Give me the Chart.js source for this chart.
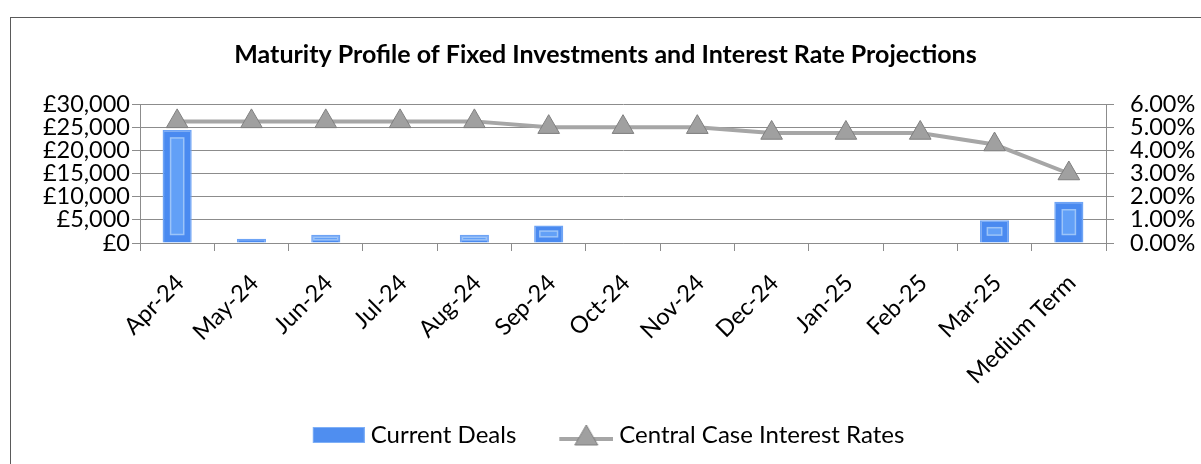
<!DOCTYPE html>
<html>
<head>
<meta charset="utf-8">
<script src="https://cdn.jsdelivr.net/npm/chart.js@4.4.1/dist/chart.umd.min.js"></script>
<style>
  html, body { margin: 0; padding: 0; background: #fff; }
  #wrap { position: relative; width: 1201px; height: 464px; overflow: hidden; }
  #frame { position: absolute; left: 10px; top: 17px; width: 1400px; height: 600px;
           border: 1.5px solid #5a5a5a; pointer-events: none; }
  canvas { position: absolute; left: 0; top: 0; }
</style>
</head>
<body>
<div id="wrap">
  <div id="frame"></div>
  <canvas id="myChart" width="1201" height="464"></canvas>
</div>
<script>
// Chart data
var months = ['Apr-24', 'May-24', 'Jun-24', 'Jul-24', 'Aug-24', 'Sep-24', 'Oct-24',
              'Nov-24', 'Dec-24', 'Jan-25', 'Feb-25', 'Mar-25', 'Medium Term'];
var currentDeals = [24400, 900, 1800, 0, 1800, 3800, 0, 0, 0, 0, 0, 4900, 8900];
var interestRates = [5.25, 5.25, 5.25, 5.25, 5.25, 5.00, 5.00, 5.00, 4.75, 4.75, 4.75, 4.25, 3.00];
var dealTicks = [0, 5000, 10000, 15000, 20000, 25000, 30000];
var rateTicks = [0, 1, 2, 3, 4, 5, 6];

var fontName = 'Lato, "Open Sans", sans-serif';
var gridColor = '#8c8c8c';

// legend swatches
function barSwatch() {
  var c = document.createElement('canvas');
  c.width = 64; c.height = 18;
  var g = c.getContext('2d');
  g.fillStyle = '#4f8ef0';
  g.fillRect(12, 1, 52, 16);
  g.strokeStyle = '#7fb0f7';
  g.strokeRect(12.5, 1.5, 51, 15);
  return c;
}
function lineSwatch() {
  var c = document.createElement('canvas');
  c.width = 64; c.height = 28;
  var g = c.getContext('2d');
  g.strokeStyle = '#a6a6a6';
  g.lineWidth = 4;
  g.beginPath(); g.moveTo(10, 18); g.lineTo(64, 18); g.stroke();
  g.fillStyle = '#a0a0a0';
  g.strokeStyle = '#7f7f7f';
  g.lineWidth = 1;
  g.beginPath(); g.moveTo(37, 4); g.lineTo(48.5, 24); g.lineTo(25.5, 24); g.closePath();
  g.fill(); g.stroke();
  return c;
}

// inner bevel on the bars
var bevelPlugin = {
  id: 'bevel',
  afterDatasetsDraw: function(chart) {
    var meta = chart.getDatasetMeta(0);
    var ctx = chart.ctx;
    ctx.save();
    meta.data.forEach(function(bar) {
      var h = bar.base - bar.y;
      if (h < 6) return;
      var w = bar.width;
      var left = bar.x - w / 2;
      var inset = Math.min(8, h / 3);
      ctx.fillStyle = '#62a0f7';
      ctx.fillRect(left + inset, bar.y + inset, w - inset * 2, h - inset * 2);
      ctx.strokeStyle = '#9cc4f8';
      ctx.lineWidth = 1.5;
      ctx.strokeRect(left + inset, bar.y + inset, w - inset * 2, h - inset * 2);
    });
    ctx.restore();
  }
};

var ctx = document.getElementById('myChart').getContext('2d');
var myChart = new Chart(ctx, {
  type: 'bar',
  data: {
    labels: months,
    datasets: [{
      type: 'bar',
      label: 'Current Deals',
      data: currentDeals,
      yAxisID: 'y',
      backgroundColor: '#4a8af0',
      borderColor: '#6ea4f5',
      borderWidth: 1.5,
      barPercentage: 0.8,
      categoryPercentage: 0.49,
      order: 2
    }, {
      type: 'line',
      label: 'Central Case Interest Rates',
      data: interestRates,
      yAxisID: 'y1',
      borderColor: '#a6a6a6',
      borderWidth: 4,
      pointStyle: 'triangle',
      pointRadius: 12.5,
      pointBackgroundColor: '#a0a0a0',
      pointBorderColor: '#7f7f7f',
      pointBorderWidth: 1,
      tension: 0,
      order: 1
    }]
  },
  options: {
    responsive: false,
    animation: false,
    layout: { padding: { left: 10, right: 0, top: 0, bottom: 7 } },
    plugins: {
      title: {
        display: true,
        text: 'Maturity Profile of Fixed Investments and Interest Rate Projections',
        color: '#000',
        font: { family: fontName, size: 25, weight: 'bold' },
        padding: { top: 40, bottom: 34 }
      },
      legend: {
        position: 'bottom',
        labels: {
          color: '#000',
          font: { family: fontName, size: 24 },
          usePointStyle: true,
          pointStyleWidth: 52,
          padding: 39,
          generateLabels: function(chart) {
            return [
              { text: 'Current Deals', pointStyle: barSwatch(), datasetIndex: 0, lineWidth: 0 },
              { text: 'Central Case Interest Rates', pointStyle: lineSwatch(), datasetIndex: 1, lineWidth: 0 }
            ];
          }
        }
      },
      tooltip: { enabled: false }
    },
    scales: {
      x: {
        offset: true,
        grid: { display: true, drawOnChartArea: false, drawTicks: true, tickLength: 8, color: gridColor, offset: true },
        border: { display: true, color: gridColor },
        ticks: {
          color: '#000',
          font: { family: fontName, size: 23.5 },
          minRotation: 45,
          maxRotation: 45,
          padding: 18,
          labelOffset: 3,
          autoSkip: false
        },
        afterFit: function(axis) { axis.height = 141; }
      },
      y: {
        position: 'left',
        min: 0,
        max: 30000,
        afterBuildTicks: function(axis) { axis.ticks = dealTicks.map(function(v) { return { value: v }; }); },
        grid: { color: gridColor, tickLength: 8 },
        border: { display: true, color: gridColor },
        ticks: {
          color: '#000',
          font: { family: fontName, size: 23.5 },
          padding: 2,
          autoSkip: false,
          callback: function(v) { return '£' + v.toLocaleString('en-GB'); }
        },
        afterFit: function(axis) { axis.width = 130; }
      },
      y1: {
        position: 'right',
        min: 0,
        max: 6,
        afterBuildTicks: function(axis) { axis.ticks = rateTicks.map(function(v) { return { value: v }; }); },
        grid: { drawOnChartArea: false, color: gridColor, tickLength: 8 },
        border: { display: true, color: gridColor },
        ticks: {
          color: '#000',
          font: { family: fontName, size: 23.5 },
          padding: 16,
          autoSkip: false,
          callback: function(v) { return v.toFixed(2) + '%'; }
        },
        afterFit: function(axis) { axis.width = 95; }
      }
    }
  },
  plugins: [bevelPlugin]
});
</script>
</body>
</html>
